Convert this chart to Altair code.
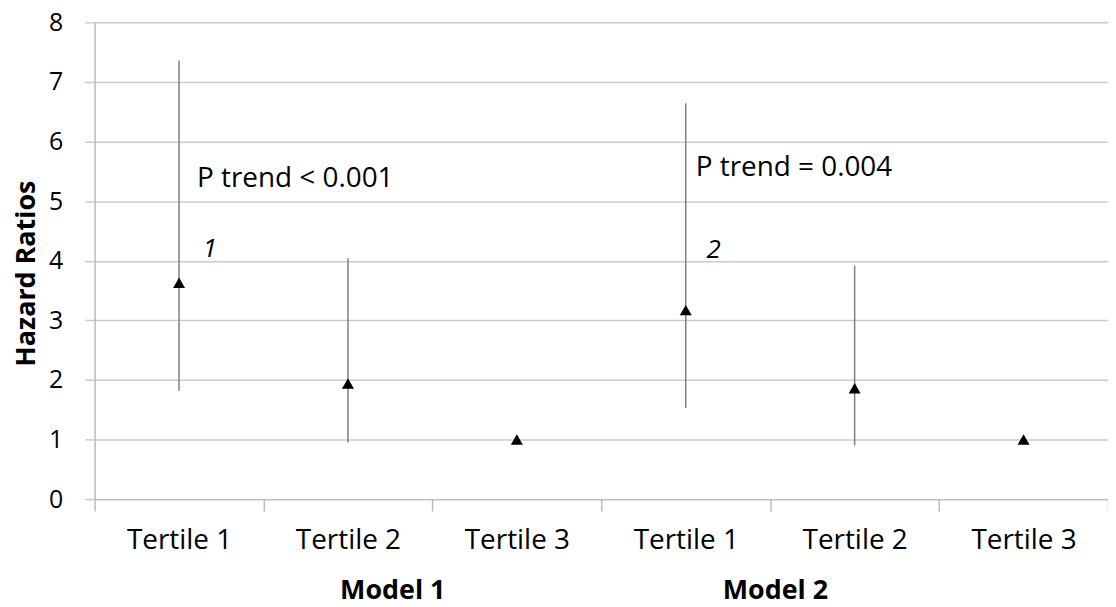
import altair as alt
import pandas as pd

# ---- data ----
models = ["Model 1", "Model 1", "Model 1", "Model 2", "Model 2", "Model 2"]
tertiles = ["Tertile 1", "Tertile 2", "Tertile 3", "Tertile 1", "Tertile 2", "Tertile 3"]
hr = [3.63, 1.94, 1.0, 3.17, 1.86, 1.0]
lower = [1.82, 0.95, 1.0, 1.53, 0.90, 1.0]
upper = [7.36, 4.04, 1.0, 6.64, 3.92, 1.0]

ann_text = ["P trend < 0.001", "P trend = 0.004"]
ann_model = ["Model 1", "Model 2"]
ann_y = [5.37, 5.55]
ann_dx = [18, 10]

num_text = ["1", "2"]
num_y = [4.2, 4.18]
num_dx = [31, 28]

group_text = ["Model 1", "Model 2"]
group_key = ["Model 1|Tertile 2", "Model 2|Tertile 1"]
group_dx = [45, 90]
group_y = [-1.54, -1.54]

FONT = "Open Sans"
GRID = "#cccccc"

keys = [f"{m}|{t}" for m, t in zip(models, tertiles)]
df = pd.DataFrame(dict(key=keys, hr=hr, lower=lower, upper=upper))

x_enc = alt.X(
    "key:N",
    sort=keys,
    scale=alt.Scale(domain=keys, paddingInner=0, paddingOuter=0),
    axis=alt.Axis(
        title=None,
        tickBand="extent",
        labelExpr="split(datum.label, '|')[1]",
        labelFont=FONT,
        labelFontSize=28,
        labelColor="#000000",
        labelPadding=16,
        labelAngle=0,
        tickSize=12,
        tickColor="#bbbbbb",
        tickWidth=1.5,
        domainColor="#bbbbbb",
        domainWidth=1.5,
        grid=False,
    ),
)

y_scale = alt.Scale(domain=[0, 8], nice=False, zero=True)
y_enc = alt.Y(
    "lower:Q",
    scale=y_scale,
    axis=alt.Axis(
        title="Hazard Ratios",
        titleFont=FONT,
        titleFontSize=27,
        titleFontWeight="bold",
        titleColor="#000000",
        titleX=-68,
        titleY=252,
        titleBaseline="middle",
        values=[0, 1, 2, 3, 4, 5, 6, 7, 8],
        format="d",
        labelFont=FONT,
        labelFontSize=25,
        labelColor="#000000",
        labelPadding=22,
        tickSize=10,
        tickColor=GRID,
        tickWidth=1.5,
        domainColor="#bbbbbb",
        domainWidth=1.5,
        grid=True,
        gridColor=GRID,
        gridWidth=1.5,
    ),
)

rules = alt.Chart(df).mark_rule(color="#7f7f7f", strokeWidth=1.5).encode(
    x=x_enc, y=y_enc, y2="upper:Q"
)

points = alt.Chart(df).mark_point(
    shape="triangle-up", filled=True, color="#000000", size=145, opacity=1
).encode(x=alt.X("key:N", sort=keys), y=alt.Y("hr:Q", scale=y_scale))

ann_df = pd.DataFrame(dict(
    key=[f"{m}|Tertile 1" for m in ann_model], y=ann_y, dx=ann_dx, text=ann_text
))
anns = []
for _, r in ann_df.iterrows():
    anns.append(
        alt.Chart(pd.DataFrame([r])).mark_text(
            align="left", baseline="middle", font=FONT, fontSize=28,
            color="#000000", dx=int(r["dx"])
        ).encode(x=alt.X("key:N", sort=keys), y=alt.Y("y:Q", scale=y_scale), text="text:N")
    )

num_df = pd.DataFrame(dict(
    key=[f"{m}|Tertile 1" for m in ann_model], y=num_y, dx=num_dx, text=num_text
))
for _, r in num_df.iterrows():
    anns.append(
        alt.Chart(pd.DataFrame([r])).mark_text(
            align="center", baseline="middle", font=FONT, fontSize=26,
            fontStyle="italic", color="#000000", dx=int(r["dx"])
        ).encode(x=alt.X("key:N", sort=keys), y=alt.Y("y:Q", scale=y_scale), text="text:N")
    )

grp_df = pd.DataFrame(dict(key=group_key, y=group_y, dx=group_dx, text=group_text))
for _, r in grp_df.iterrows():
    anns.append(
        alt.Chart(pd.DataFrame([r])).mark_text(
            align="center", baseline="middle", font=FONT, fontSize=27,
            fontWeight="bold", color="#000000", dx=int(r["dx"])
        ).encode(x=alt.X("key:N", sort=keys), y=alt.Y("y:Q", scale=y_scale), text="text:N")
    )

chart = alt.layer(rules, points, *anns).properties(
    width=1018,
    height=479,
    autosize=alt.AutoSizeParams(type="none"),
    padding={"left": 87, "top": 13, "right": 0, "bottom": 106},
).configure_view(stroke=None)

chart.save("out.html", embed_options={"renderer": "svg", "actions": False})
